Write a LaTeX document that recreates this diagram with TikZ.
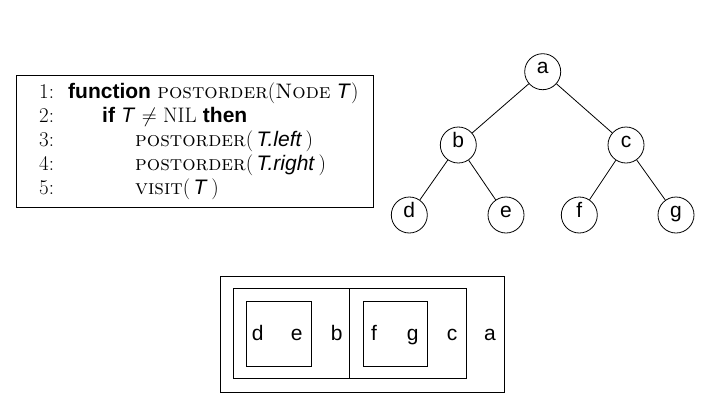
\documentclass[tikz,border=0pt]{standalone}
\usepackage{fontspec}
\setsansfont{Liberation Sans}
\newcommand{\sT}{\textsf{\textit{T}}}
\begin{document}
\begin{tikzpicture}[x=1pt,y=-1pt,
  tn/.style={circle,draw,line width=0.8pt,minimum size=36pt,inner sep=0pt,text height=1ex,text depth=0pt,font=\fontsize{21}{24}\sffamily},
  bl/.style={anchor=base,font=\fontsize{21}{24}\sffamily,inner sep=0pt},
  al/.style={anchor=base west,inner sep=0pt,font=\fontsize{21}{24}\selectfont},
  edge/.style={line width=0.8pt},
  box/.style={draw,line width=0.8pt}]
\useasboundingbox (0,0) rectangle (712,402);
% algorithm box
\draw[box] (16,75) rectangle (373,207);
\node[al] (n1) at (39,98) {1:};
\node[al] (n2) at (39,122) {2:};
\node[al] (n3) at (39,146) {3:};
\node[al] (n4) at (39,170) {4:};
\node[al] (n5) at (39,194) {5:};
\node[al] (l1) at (68,98) {\textsf{\textbf{function}} \textsc{postorder}(\textsc{Node} \sT)};
\node[al] (l2) at (102,122) {\textsf{\textbf{if}} \sT{} $\neq$ NIL \textsf{\textbf{then}}};
\node[al] (l3) at (135,146) {\textsc{postorder}(\,\textsf{\textit{T.left}}\,)};
\node[al] (l4) at (135,170) {\textsc{postorder}(\,\textsf{\textit{T.right}}\,)};
\node[al] (l5) at (135,194) {\textsc{visit}(\,\sT\,)};
% tree
\node[tn] (a) at (542.7,71.7) {a};
\node[tn] (b) at (458.3,145) {b};
\node[tn] (c) at (626,145) {c};
\node[tn] (d) at (409.3,215) {d};
\node[tn] (e) at (506,215) {e};
\node[tn] (f) at (579.3,215) {f};
\node[tn] (g) at (676,215) {g};
\draw[edge] (a) -- (b);
\draw[edge] (a) -- (c);
\draw[edge] (b) -- (d);
\draw[edge] (b) -- (e);
\draw[edge] (c) -- (f);
\draw[edge] (c) -- (g);
% nested boxes
\draw[box] (220,276) rectangle (504,392);
\draw[box] (233,288) rectangle (466,378);
\draw[box] (349,288) -- (349,378);
\draw[box] (246,301) rectangle (311,366);
\draw[box] (363,301) rectangle (427,366);
\node[bl] (bd) at (257.7,340) {d};
\node[bl] (be) at (296.7,340) {e};
\node[bl] (bb) at (336.7,340) {b};
\node[bl] (bf) at (374,340) {f};
\node[bl] (bg) at (412.7,340) {g};
\node[bl] (bc) at (452,340) {c};
\node[bl] (ba) at (490,340) {a};
\end{tikzpicture}
\end{document}
